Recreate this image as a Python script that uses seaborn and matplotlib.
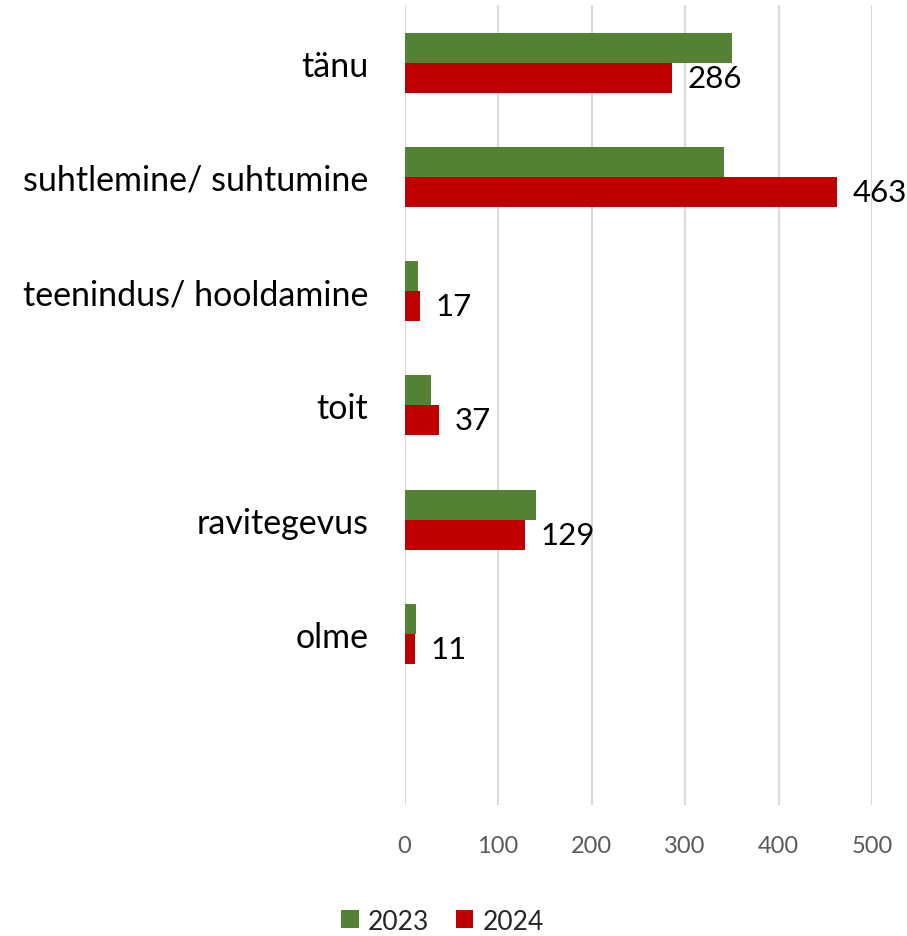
import pandas as pd
import matplotlib.pyplot as plt
import seaborn as sns

# --- data ---
categories = ["tänu", "suhtlemine/ suhtumine", "teenindus/ hooldamine", "toit", "ravitegevus", "olme"]
years = ["2023", "2024"]
values_2023 = [350, 342, 14, 28, 141, 12]
values_2024 = [286, 463, 17, 37, 129, 11]
x_ticks = [0, 100, 200, 300, 400, 500]

colors = {"2023": "#548235", "2024": "#C00000"}

df = pd.DataFrame({
    "kategooria": categories * 2,
    "aasta": ["2023"] * len(categories) + ["2024"] * len(categories),
    "arv": values_2023 + values_2024,
})

sns.set_style("white")
plt.rcParams["font.family"] = ["Lato", "DejaVu Sans"]

fig = plt.figure(figsize=(9.07, 9.37), dpi=100)
ax = fig.add_axes([0.446, 0.1393, 0.5155, 0.8538])

sns.barplot(data=df, y="kategooria", x="arv", hue="aasta", order=categories,
            hue_order=years, palette=colors, orient="h", width=0.525,
            saturation=1, linewidth=0, ax=ax, legend=True)

# labels only on the 2024 series
ax.bar_label(ax.containers[1], labels=[str(v) for v in values_2024],
             padding=11, fontsize=22.5, color="black")

ax.set_xlim(0, 500)
ax.set_ylim(6.5, -0.5)  # one empty slot under "olme", as in the original
ax.set_xticks(x_ticks)
ax.grid(axis="x", color="#d9d9d9", linewidth=1.5)
ax.set_axisbelow(True)
for s in ax.spines.values():
    s.set_visible(False)
ax.tick_params(axis="x", length=0, pad=21, labelsize=17, labelcolor="#595959")
ax.tick_params(axis="y", length=0, pad=26, labelsize=24.5, labelcolor="black")
ax.set_xlabel("")
ax.set_ylabel("")

handles, labels = ax.get_legend_handles_labels()
ax.get_legend().remove()
fig.legend(handles, labels, loc="center", bbox_to_anchor=(0.488, 0.016),
           ncol=2, frameon=False, fontsize=19, handlelength=0.66,
           handleheight=0.66, handletextpad=0.35, columnspacing=1.0)

fig.savefig("out.png", dpi=100)
